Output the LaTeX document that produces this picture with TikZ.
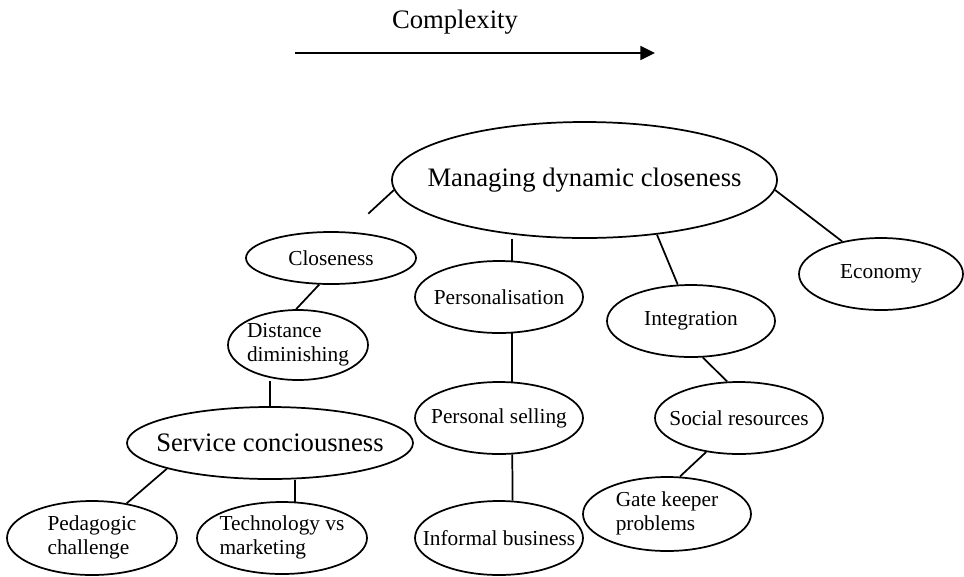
\documentclass[tikz,border=0pt]{standalone}
\usepackage{fontspec}
\setmainfont{Liberation Serif}
\usetikzlibrary{shapes.geometric,arrows.meta}

% text set in a zero-width box so the ellipse keeps its given size
\newcommand\oneline[1]{\makebox[0pt]{#1}}
\newcommand\twolines[2]{\makebox[0pt]{\begin{tabular}{@{}l@{}}#1\\#2\end{tabular}}}

\begin{document}
\begin{tikzpicture}[x=0.75pt,y=-0.75pt,
  bubble/.style={draw, ellipse, line width=1.3pt, inner sep=0pt,
                 font=\fontsize{16pt}{18pt}\selectfont},
  big/.style={font=\fontsize{20pt}{23pt}\selectfont},
  size/.style 2 args={minimum width=#1*0.75pt, minimum height=#2*0.75pt},
  link/.style={line width=1.3pt}]

\useasboundingbox (0,0) rectangle (964,576);

% complexity axis
\node[big, anchor=base] (cplx) at (455,28) {Complexity};
\coordinate (cx0) at (295,53);
\coordinate (cx1) at (655,53);
\draw[link, -{Triangle[length=11pt, width=10.5pt]}] (cx0) -- (cx1);

% concept bubbles
\node[bubble, big, size={385}{116}] (main) at (584.5,180) {\oneline{Managing dynamic closeness}};
\node[bubble, size={170}{52}]  (close) at (331,258) {\oneline{Closeness}};
\node[bubble, size={140}{70}]  (dist)  at (298,345) {\twolines{Distance}{diminishing}};
\node[bubble, big, size={286}{72}] (serv) at (270,443) {\oneline{Service conciousness}};
\node[bubble, size={170}{74}]  (ped)   at (92,538)  {\twolines{Pedagogic}{challenge}};
\node[bubble, size={170}{72}]  (tech)  at (282,538) {\twolines{Technology vs}{marketing}};
\node[bubble, size={168}{72}]  (pers)  at (499,297) {\oneline{Personalisation}};
\node[bubble, size={168}{72}]  (sell)  at (499,418) {\oneline{Personal selling}};
\node[bubble, size={168}{74}]  (inf)   at (499,538) {\oneline{Informal business}};
\node[bubble, size={168}{72}]  (int)   at (691,321) {\oneline{Integration}};
\node[bubble, size={168}{72}]  (soc)   at (739,418) {\oneline{Social resources}};
\node[bubble, size={168}{74}]  (gate)  at (667,514) {\twolines{Gate keeper}{problems}};
\node[bubble, size={164}{72}]  (eco)   at (881,274) {\oneline{Economy}};

% connectors
\draw[link, shorten >=20pt] (main.183) -- (close.56);
\draw[link] (close.246) -- (dist.93);
\draw[link] (serv.north |- dist.south) -- (serv.north);
\draw[link] (serv.194) -- (ped.45);
\draw[link] (tech.70 |- serv.south) -- (tech.70);
\draw[link] (pers.70 |- main.south) -- (pers.70);
\draw[link] (pers.-70) -- (sell.70);
\draw[link] (sell.-70) -- (inf.70);
\draw[link] (main.-37.5) -- (int.110);
\draw[link] (int.-72) -- (soc.108);
\draw[link] (soc.226) -- (gate.71);
\draw[link] (main.-3) -- (eco.140);

\end{tikzpicture}
\end{document}
